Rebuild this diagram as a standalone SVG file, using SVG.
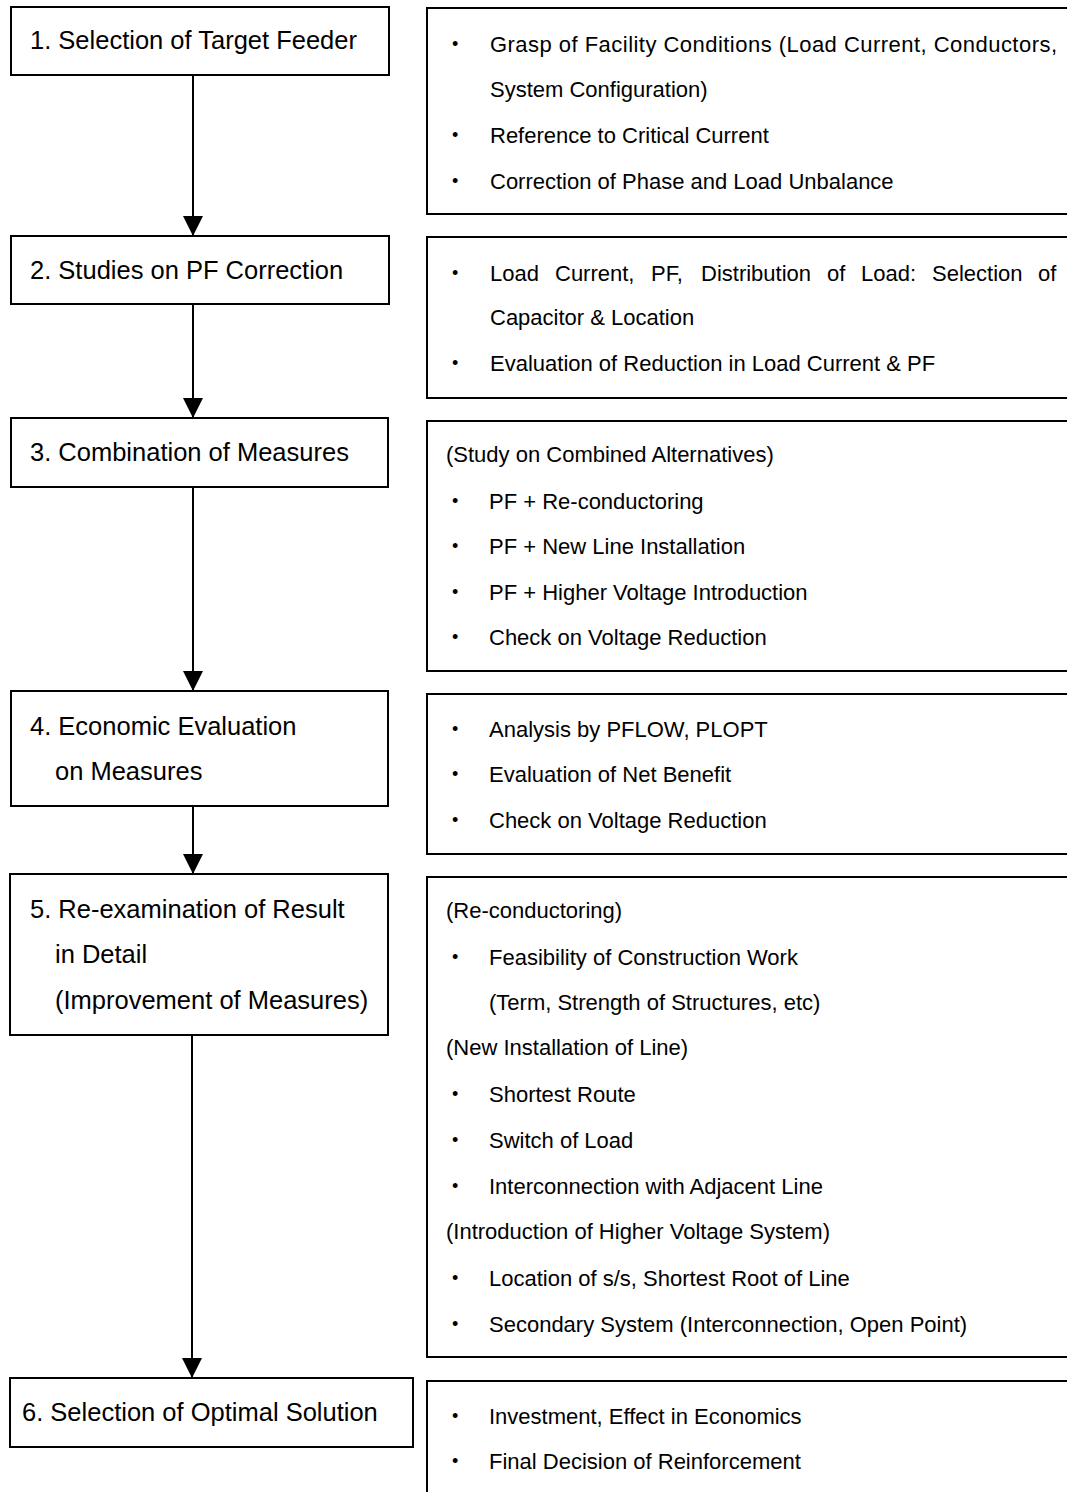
<svg xmlns="http://www.w3.org/2000/svg" width="1067" height="1492" viewBox="0 0 1067 1492">
  <style>
    .box { fill: #fff; stroke: #000; stroke-width: 2; }
    .step { font-family: "Liberation Sans", Arial, sans-serif; font-size: 25.5px; fill: #000; }
    .item { font-family: "Liberation Sans", Arial, sans-serif; font-size: 22px; fill: #000; }
    .dot { font-family: "Liberation Sans", Arial, sans-serif; font-size: 18px; fill: #000; }
    .flow { stroke: #000; stroke-width: 2; fill: none; marker-end: url(#head); }
  </style>
  <defs>
    <marker id="head" viewBox="0 0 20 20" refX="20" refY="10" markerWidth="20" markerHeight="20" markerUnits="userSpaceOnUse" orient="auto">
      <path d="M0,0 L20,10 L0,20 Z" fill="#000"/>
    </marker>
  </defs>
  <rect width="1067" height="1492" fill="#fff"/>

  <!-- connectors between steps -->
  <g id="connectors">
    <line class="flow" x1="193" y1="75" x2="193" y2="236"/>
    <line class="flow" x1="193" y1="304" x2="193" y2="418"/>
    <line class="flow" x1="193" y1="487" x2="193" y2="691"/>
    <line class="flow" x1="193" y1="806" x2="193" y2="874"/>
    <line class="flow" x1="192" y1="1035" x2="192" y2="1378"/>
  </g>

  <!-- step 1 -->
  <g id="step1">
    <rect class="box" x="11" y="7" width="378" height="68"/>
    <text class="step" x="30" y="49">1. Selection of Target Feeder</text>
  </g>
  <g id="notes1">
    <rect class="box" x="427" y="8" width="660" height="206"/>
    <text class="dot" x="452" y="50">•</text>
    <text class="item" x="490" y="52" textLength="567" lengthAdjust="spacing">Grasp of Facility Conditions (Load Current, Conductors,</text>
    <text class="item" x="490" y="97">System Configuration)</text>
    <text class="dot" x="452" y="141">•</text>
    <text class="item" x="490" y="143">Reference to Critical Current</text>
    <text class="dot" x="452" y="187">•</text>
    <text class="item" x="490" y="189">Correction of Phase and Load Unbalance</text>
  </g>

  <!-- step 2 -->
  <g id="step2">
    <rect class="box" x="11" y="236" width="378" height="68"/>
    <text class="step" x="30" y="279">2. Studies on PF Correction</text>
  </g>
  <g id="notes2">
    <rect class="box" x="427" y="237" width="660" height="161"/>
    <text class="dot" x="452" y="279">•</text>
    <!-- justified first line: words placed individually -->
    <text class="item" y="281"><tspan x="490">Load</tspan><tspan x="555">Current,</tspan><tspan x="651">PF,</tspan><tspan x="701">Distribution</tspan><tspan x="827">of</tspan><tspan x="861">Load:</tspan><tspan x="932">Selection</tspan><tspan x="1038">of</tspan></text>
    <text class="item" x="490" y="325">Capacitor &amp; Location</text>
    <text class="dot" x="452" y="369">•</text>
    <text class="item" x="490" y="371">Evaluation of Reduction in Load Current &amp; PF</text>
  </g>

  <!-- step 3 -->
  <g id="step3">
    <rect class="box" x="11" y="418" width="377" height="69"/>
    <text class="step" x="30" y="461">3. Combination of Measures</text>
  </g>
  <g id="notes3">
    <rect class="box" x="427" y="421" width="660" height="250"/>
    <text class="item" x="446" y="462">(Study on Combined Alternatives)</text>
    <text class="dot" x="452" y="507">•</text>
    <text class="item" x="489" y="509">PF + Re-conductoring</text>
    <text class="dot" x="452" y="552">•</text>
    <text class="item" x="489" y="554">PF + New Line Installation</text>
    <text class="dot" x="452" y="598">•</text>
    <text class="item" x="489" y="600">PF + Higher Voltage Introduction</text>
    <text class="dot" x="452" y="643">•</text>
    <text class="item" x="489" y="645">Check on Voltage Reduction</text>
  </g>

  <!-- step 4 -->
  <g id="step4">
    <rect class="box" x="11" y="691" width="377" height="115"/>
    <text class="step" x="30" y="735">4. Economic Evaluation</text>
    <text class="step" x="55" y="780">on Measures</text>
  </g>
  <g id="notes4">
    <rect class="box" x="427" y="694" width="660" height="160"/>
    <text class="dot" x="452" y="735">•</text>
    <text class="item" x="489" y="737">Analysis by PFLOW, PLOPT</text>
    <text class="dot" x="452" y="780">•</text>
    <text class="item" x="489" y="782">Evaluation of Net Benefit</text>
    <text class="dot" x="452" y="826">•</text>
    <text class="item" x="489" y="828">Check on Voltage Reduction</text>
  </g>

  <!-- step 5 -->
  <g id="step5">
    <rect class="box" x="10" y="874" width="378" height="161"/>
    <text class="step" x="30" y="918">5. Re-examination of Result</text>
    <text class="step" x="55" y="963">in Detail</text>
    <text class="step" x="55" y="1009">(Improvement of Measures)</text>
  </g>
  <g id="notes5">
    <rect class="box" x="427" y="877" width="660" height="480"/>
    <text class="item" x="446" y="918">(Re-conductoring)</text>
    <text class="dot" x="452" y="963">•</text>
    <text class="item" x="489" y="965">Feasibility of Construction Work</text>
    <text class="item" x="489" y="1010">(Term, Strength of Structures, etc)</text>
    <text class="item" x="446" y="1055">(New Installation of Line)</text>
    <text class="dot" x="452" y="1100">•</text>
    <text class="item" x="489" y="1102">Shortest Route</text>
    <text class="dot" x="452" y="1146">•</text>
    <text class="item" x="489" y="1148">Switch of Load</text>
    <text class="dot" x="452" y="1192">•</text>
    <text class="item" x="489" y="1194">Interconnection with Adjacent Line</text>
    <text class="item" x="446" y="1239">(Introduction of Higher Voltage System)</text>
    <text class="dot" x="452" y="1284">•</text>
    <text class="item" x="489" y="1286">Location of s/s, Shortest Root of Line</text>
    <text class="dot" x="452" y="1330">•</text>
    <text class="item" x="489" y="1332">Secondary System (Interconnection, Open Point)</text>
  </g>

  <!-- step 6 -->
  <g id="step6">
    <rect class="box" x="10" y="1378" width="403" height="69"/>
    <text class="step" x="22" y="1421">6. Selection of Optimal Solution</text>
  </g>
  <g id="notes6">
    <rect class="box" x="427" y="1381" width="660" height="140"/>
    <text class="dot" x="452" y="1422">•</text>
    <text class="item" x="489" y="1424">Investment, Effect in Economics</text>
    <text class="dot" x="452" y="1467">•</text>
    <text class="item" x="489" y="1469">Final Decision of Reinforcement</text>
  </g>
</svg>
